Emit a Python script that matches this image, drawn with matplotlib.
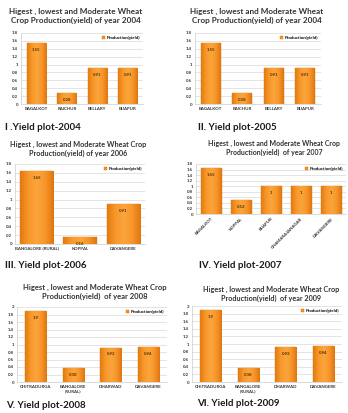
import numpy as np
import matplotlib
matplotlib.use('Agg')
import matplotlib.pyplot as plt
from matplotlib.ticker import FuncFormatter, MultipleLocator
from matplotlib.colors import LinearSegmentedColormap

plt.rcParams['font.family'] = ['Lato', 'DejaVu Sans']
plt.rcParams['font.weight'] = 'bold'

W, H = 348, 413

# data
cats_2004 = ['BAGALKOT', 'RAICHUR', 'BELLARY', 'BIJAPUR']
vals_2004 = [1.55, 0.28, 0.91, 0.91]
cats_2005 = ['BAGALKOT', 'RAICHUR', 'BELLARY', 'BIJAPUR']
vals_2005 = [1.55, 0.28, 0.91, 0.91]
cats_2006 = ['BANGALORE (RURAL)', 'KOPPAL', 'DAVANGERE']
vals_2006 = [1.65, 0.16, 0.91]
cats_2007 = ['BAGALKOT', 'KOPPAL', 'BIJAPUR', 'CHAMARAJANAGAR', 'DAVANGERE']
vals_2007 = [1.65, 0.52, 1, 1, 1]
cats_2008 = ['CHITRADURGA', 'BANGALORE\n(RURAL)', 'DHARWAD', 'DAVANGERE']
vals_2008 = [1.9, 0.38, 0.92, 0.94]
cats_2009 = ['CHITRADURGA', 'BANGALORE\n(RURAL)', 'DHARWAD', 'DAVANGERE']
vals_2009 = [1.9, 0.38, 0.92, 0.94]

title_a = 'Higest , lowest and Moderate Wheat\nCrop Production(yield) of year {}'
title_b = 'Higest , lowest and Moderate Wheat Crop\nProduction(yield) of year {}'
title_c = 'Higest , lowest and Moderate Wheat Crop\nProduction(yield)  of year {}'

# (cats, vals, title, caption, box px [left, right, top, bottom], ymax,
#  bar width, rotate, title center x, title y, title size, caption x, caption y)
panels = [
    (cats_2004, vals_2004, title_a.format(2004), 'I .Yield plot-2004',
     (21, 143, 33, 104), 1.8, 0.63, False, 76, 16, 5.9, 5, 127),
    (cats_2005, vals_2005, title_a.format(2004), 'II. Yield plot-2005',
     (195, 321, 33, 104), 1.8, 0.63, False, 257, 16, 5.9, 198, 127),
    (cats_2006, vals_2006, title_b.format(2006), 'III. Yield plot-2006',
     (15, 145, 164, 244), 1.8, 0.77, False, 78, 149, 5.2, 5, 265),
    (cats_2007, vals_2007, title_c.format(2007), 'IV. Yield plot-2007',
     (196, 346, 164, 214), 1.8, 0.7, True, 274, 148, 5.0, 199, 266),
    (cats_2008, vals_2008, title_c.format(2008), 'V. Yield plot-2008',
     (17, 167, 307, 382), 2.0, 0.57, False, 95, 292, 5.5, 6, 405),
    (cats_2009, vals_2009, title_c.format(2009), 'VI. Yield plot-2009',
     (192, 342, 306, 382), 2.0, 0.57, False, 271, 294, 5.2, 197, 404),
]

orange = LinearSegmentedColormap.from_list(
    'cyl', ['#e37a10', '#f8982a', '#faa53c', '#f7962a', '#df760f'])
grad = np.linspace(0, 1, 64).reshape(1, -1)

fig = plt.figure(figsize=(W / 100, H / 100), dpi=100)
fig.patch.set_facecolor('white')

for (cats, vals, title, caption, box, ymax, bw, rot,
     tx, ty, ts, cx, cy) in panels:
    l, r, t, b = box
    ax = fig.add_axes([l / W, 1 - b / H, (r - l) / W, (b - t) / H])
    x = np.arange(len(cats))
    bars = ax.bar(x, vals, width=bw, color='#f7941d', edgecolor='#dc740e',
                  linewidth=0.3, label='Production(yield)', zorder=2)
    for p in bars.patches:
        bb = p.get_bbox()
        im = ax.imshow(grad, cmap=orange, aspect='auto', zorder=2.5,
                       extent=[bb.x0, bb.x1, bb.y0, bb.y1])
        im.set_clip_path(p)
    for xi, v in zip(x, vals):
        ax.annotate('%g' % v, (xi, v), xytext=(0, -5),
                    textcoords='offset points', ha='center', va='center',
                    fontsize=3.2, color='#5a3000', zorder=3)
    ax.set_xlim(-0.5, len(cats) - 0.5)
    ax.set_ylim(0, ymax)
    ax.yaxis.set_major_locator(MultipleLocator(0.2))
    ax.yaxis.set_major_formatter(FuncFormatter(lambda v, pos: '%g' % round(v, 1)))
    ax.set_xticks(x)
    if rot:
        ax.set_xticklabels(cats, rotation=45, ha='right', rotation_mode='anchor')
    else:
        ax.set_xticklabels(cats)
    ax.tick_params(axis='both', labelsize=3.2, length=0, pad=2,
                   colors='#333333')
    ax.grid(axis='y', color='#d0d0d0', linewidth=0.4, zorder=0)
    ax.set_axisbelow(True)
    for s in ['top', 'right']:
        ax.spines[s].set_visible(False)
    for s in ['left', 'bottom']:
        ax.spines[s].set_color('#bfbfbf')
        ax.spines[s].set_linewidth(0.4)
    ax.legend(loc='upper right', fontsize=3.2, frameon=False,
              handlelength=0.6, handleheight=0.6, borderpad=0.2,
              handletextpad=0.4)
    fig.text(tx / W, 1 - ty / H, title, ha='center', va='center',
             fontsize=ts, color='#333333', linespacing=1.3)
    fig.text(cx / W, 1 - cy / H, caption, ha='left', va='center',
             fontsize=7, color='#1a1a1a')

fig.savefig('out.png', dpi=100, facecolor='white')
